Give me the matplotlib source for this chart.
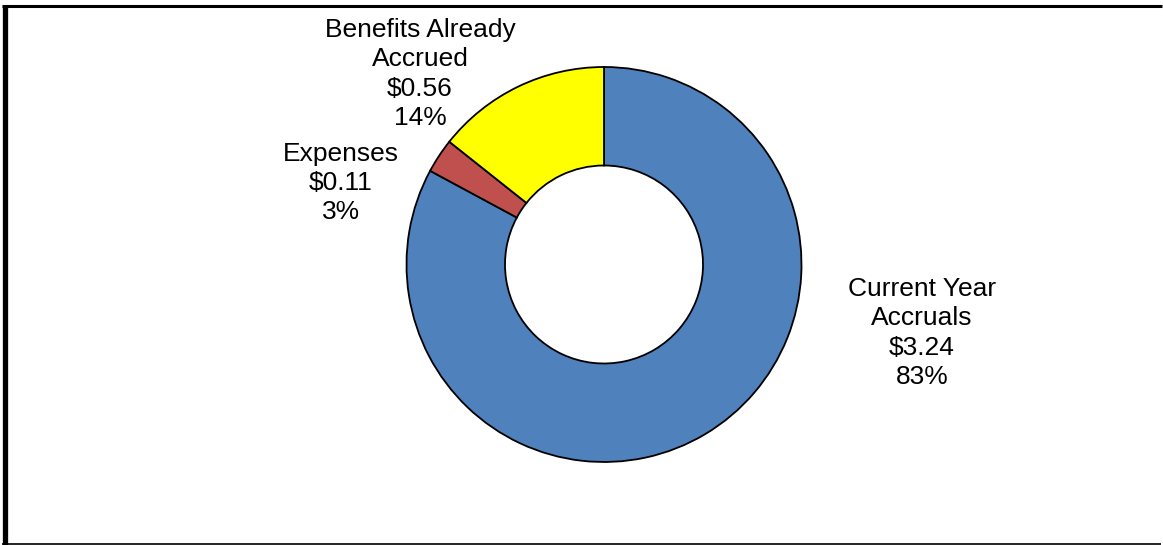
import matplotlib.pyplot as plt
from matplotlib.lines import Line2D

# Normal cost split, $ millions
categories = ["Current Year\nAccruals", "Expenses", "Benefits Already\nAccrued"]
values = [3.24, 0.11, 0.56]
colors = ["#4F81BD", "#C0504D", "#FFFF00"]

# label anchors in pixel coordinates (origin bottom-left)
label_xy = [(922, 212), (341, 362), (420, 471)]

W, H = 1163, 545

plt.rcParams["font.family"] = ["Liberation Sans", "DejaVu Sans"]

fig = plt.figure(figsize=(W / 100, H / 100), dpi=100)
fig.patch.set_facecolor("white")
ax = fig.add_axes([0, 0, 1, 1])

ax.pie(
    values,
    colors=colors,
    startangle=90,
    counterclock=False,
    center=(604, 280.5),
    radius=197.5,
    wedgeprops=dict(width=98.5, edgecolor="black", linewidth=1.3),
)
ax.set_xlim(0, W)
ax.set_ylim(0, H)
ax.set_aspect("equal")
ax.axis("off")

total = sum(values)
for name, v, (x, y) in zip(categories, values, label_xy):
    ax.text(
        x, y, f"{name}\n${v:.2f}\n{v / total * 100:.0f}%",
        ha="center", va="center", fontsize=19, linespacing=1.28, color="black",
    )

# frame: heavy left and top edges, thin bottom edge
fig.add_artist(Line2D([4.5 / W, 4.5 / W], [0, 1 - 5 / H], color="black", linewidth=3.8,
                      transform=fig.transFigure, solid_capstyle="butt"))
fig.add_artist(Line2D([2 / W, 1162 / W], [1 - 6 / H, 1 - 6 / H], color="black", linewidth=2.2,
                      transform=fig.transFigure, solid_capstyle="butt"))
fig.add_artist(Line2D([2 / W, 1161 / W], [1.5 / H, 1.5 / H], color="black", linewidth=1.2,
                      transform=fig.transFigure, solid_capstyle="butt"))

fig.savefig("out.png", dpi=100)
